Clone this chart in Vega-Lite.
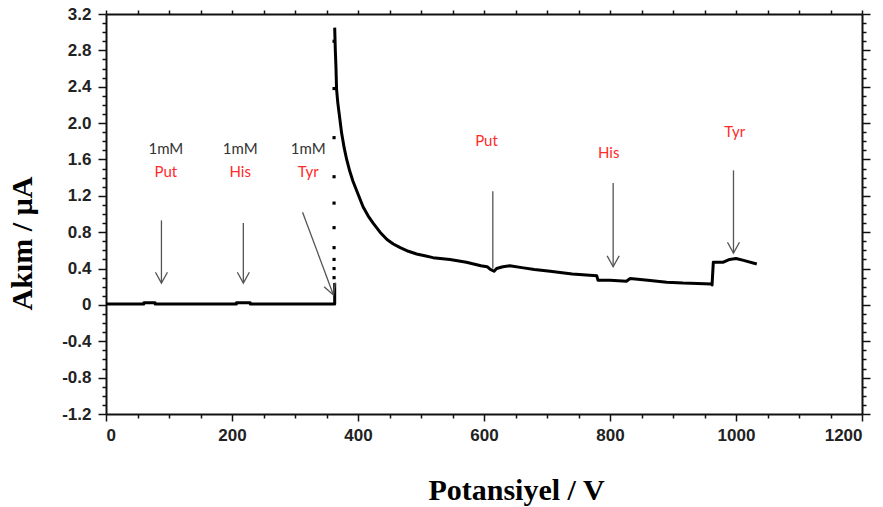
{
  "$schema": "https://vega.github.io/schema/vega-lite/v6.json",
  "width": 756,
  "height": 400,
  "autosize": {"type": "none"},
  "padding": {"left": 106, "top": 14, "right": 21, "bottom": 93},
  "background": "white",
  "config": {
    "view": {"stroke": null},
    "axis": {"grid": false, "domainColor": "#111", "tickColor": "#111", "labelFont": "Liberation Sans", "labelFontWeight": "bold", "labelFontSize": 17, "labelColor": "#222", "domainWidth": 2, "tickWidth": 1.5}
  },
  "datasets": {
    "curve": [
      {"x": 0, "y": 0.01, "seg": "a"}, {"x": 60, "y": 0.01, "seg": "a"}, {"x": 60, "y": 0.025, "seg": "a"}, {"x": 78, "y": 0.025, "seg": "a"}, {"x": 78, "y": 0.01, "seg": "a"},
      {"x": 207, "y": 0.01, "seg": "a"}, {"x": 207, "y": 0.025, "seg": "a"}, {"x": 229, "y": 0.025, "seg": "a"}, {"x": 229, "y": 0.01, "seg": "a"},
      {"x": 363, "y": 0.01, "seg": "a"}, {"x": 363, "y": 0.24, "seg": "a"},
      {"x": 363, "y": 3.05, "seg": "b"}, {"x": 364, "y": 2.8, "seg": "b"}, {"x": 365, "y": 2.62, "seg": "b"}, {"x": 366, "y": 2.37, "seg": "b"}, {"x": 368, "y": 2.22, "seg": "b"}, {"x": 370, "y": 2.11, "seg": "b"},
      {"x": 374, "y": 1.89, "seg": "b"}, {"x": 378, "y": 1.73, "seg": "b"}, {"x": 382, "y": 1.6, "seg": "b"}, {"x": 387, "y": 1.47, "seg": "b"}, {"x": 392, "y": 1.36, "seg": "b"}, {"x": 400, "y": 1.22, "seg": "b"},
      {"x": 408, "y": 1.08, "seg": "b"}, {"x": 416, "y": 0.98, "seg": "b"}, {"x": 424, "y": 0.9, "seg": "b"}, {"x": 435, "y": 0.8, "seg": "b"}, {"x": 446, "y": 0.72, "seg": "b"}, {"x": 456, "y": 0.67, "seg": "b"}, {"x": 467, "y": 0.63, "seg": "b"},
      {"x": 480, "y": 0.59, "seg": "b"}, {"x": 493, "y": 0.56, "seg": "b"}, {"x": 506, "y": 0.54, "seg": "b"}, {"x": 519, "y": 0.52, "seg": "b"}, {"x": 546, "y": 0.5, "seg": "b"}, {"x": 572, "y": 0.47, "seg": "b"},
      {"x": 595, "y": 0.43, "seg": "b"}, {"x": 605, "y": 0.42, "seg": "b"}, {"x": 610, "y": 0.39, "seg": "b"}, {"x": 616, "y": 0.37, "seg": "b"},
      {"x": 620, "y": 0.4, "seg": "b"}, {"x": 630, "y": 0.42, "seg": "b"}, {"x": 641, "y": 0.43, "seg": "b"}, {"x": 660, "y": 0.41, "seg": "b"},
      {"x": 680, "y": 0.39, "seg": "b"}, {"x": 705, "y": 0.37, "seg": "b"}, {"x": 740, "y": 0.34, "seg": "b"}, {"x": 779, "y": 0.32, "seg": "b"},
      {"x": 781, "y": 0.27, "seg": "b"}, {"x": 800, "y": 0.27, "seg": "b"}, {"x": 826, "y": 0.26, "seg": "b"}, {"x": 832, "y": 0.29, "seg": "b"},
      {"x": 860, "y": 0.27, "seg": "b"}, {"x": 890, "y": 0.25, "seg": "b"}, {"x": 916, "y": 0.24, "seg": "b"}, {"x": 961, "y": 0.23, "seg": "b"},
      {"x": 962, "y": 0.22, "seg": "b"}, {"x": 964, "y": 0.47, "seg": "b"}, {"x": 980, "y": 0.47, "seg": "b"}, {"x": 990, "y": 0.5, "seg": "b"},
      {"x": 1000, "y": 0.51, "seg": "b"}, {"x": 1012, "y": 0.49, "seg": "b"}, {"x": 1033, "y": 0.45, "seg": "b"}
    ],
    "dots": [
      {"x": 362, "y": 0.3}, {"x": 362, "y": 0.4}, {"x": 362, "y": 0.5}, {"x": 362, "y": 0.63}, {"x": 362, "y": 0.85},
      {"x": 362, "y": 1.12}, {"x": 362, "y": 1.41}, {"x": 362, "y": 1.84}, {"x": 362, "y": 2.38}, {"x": 362, "y": 2.9}
    ],
    "arrows": [
      {"x": 88, "y": 0.93, "x2": 88, "y2": 0.24, "head": "down"},
      {"x": 218, "y": 0.9, "x2": 218, "y2": 0.24, "head": "down"},
      {"x": 312, "y": 1.02, "x2": 361, "y2": 0.11, "head": "diag"},
      {"x": 614, "y": 1.25, "x2": 614, "y2": 0.4, "head": "none"},
      {"x": 805, "y": 1.34, "x2": 805, "y2": 0.42, "head": "down"},
      {"x": 996, "y": 1.48, "x2": 996, "y2": 0.57, "head": "down"}
    ],
    "labels": [
      {"x": 95, "y": 1.71, "text": "1mM", "kind": "conc"},
      {"x": 95, "y": 1.46, "text": "Put", "kind": "name"},
      {"x": 213, "y": 1.71, "text": "1mM", "kind": "conc"},
      {"x": 213, "y": 1.46, "text": "His", "kind": "name"},
      {"x": 321, "y": 1.71, "text": "1mM", "kind": "conc"},
      {"x": 321, "y": 1.46, "text": "Tyr", "kind": "name"},
      {"x": 604, "y": 1.8, "text": "Put", "kind": "name"},
      {"x": 798, "y": 1.67, "text": "His", "kind": "name"},
      {"x": 998, "y": 1.9, "text": "Tyr", "kind": "name"}
    ]
  },
  "resolve": {"axis": {"x": "independent", "y": "independent"}},
  "layer": [
    {
      "data": {"name": "curve"},
      "mark": {"type": "line", "color": "#000", "strokeWidth": 3, "strokeJoin": "round"},
      "encoding": {
        "x": {"field": "x", "type": "quantitative", "scale": {"domain": [0, 1200], "nice": false},
          "axis": {"orient": "bottom", "values": [0, 200, 400, 600, 800, 1000, 1200], "format": "d", "tickSize": 7, "labelPadding": 6,
            "title": "Potansiyel / V", "titleFont": "Liberation Serif", "titleFontSize": 30, "titleFontWeight": "bold", "titleColor": "#000",
            "titleX": 410, "titleY": 76, "titleBaseline": "middle", "titleAlign": "center"}},
        "y": {"field": "y", "type": "quantitative", "scale": {"domain": [-1.2, 3.2], "nice": false, "zero": false},
          "axis": {"orient": "left", "values": [-1.2, -0.8, -0.4, 0, 0.4, 0.8, 1.2, 1.6, 2.0, 2.4, 2.8, 3.2], "tickSize": 8, "labelPadding": 7,
            "labelExpr": "datum.value == 0 ? '0' : (datum.value < 0 ? '-' + format(-datum.value, '.1f') : format(datum.value, '.1f'))",
            "title": "Akım  / µA", "titleFont": "Liberation Serif", "titleFontSize": 30, "titleFontWeight": "bold", "titleColor": "#000",
            "titleX": -84, "titleY": 229, "titleBaseline": "middle", "titleAlign": "center", "titleAngle": -90}},
        "detail": {"field": "seg"}
      }
    },
    {
      "data": {"name": "dots"},
      "mark": {"type": "point", "shape": "square", "filled": true, "color": "#000", "size": 10, "opacity": 1},
      "encoding": {
        "x": {"field": "x", "type": "quantitative",
          "axis": {"orient": "bottom", "values": [50, 100, 150, 250, 300, 350, 450, 500, 550, 650, 700, 750, 850, 900, 950, 1050, 1100, 1150], "tickSize": 4, "labels": false, "domain": false, "title": null}},
        "y": {"field": "y", "type": "quantitative",
          "axis": {"orient": "left", "values": [-1.1, -1.0, -0.9, -0.7, -0.6, -0.5, -0.3, -0.2, -0.1, 0.1, 0.2, 0.3, 0.5, 0.6, 0.7, 0.9, 1.0, 1.1, 1.3, 1.4, 1.5, 1.7, 1.8, 1.9, 2.1, 2.2, 2.3, 2.5, 2.6, 2.7, 2.9, 3.0, 3.1], "tickSize": 4, "labels": false, "domain": false, "title": null}}
      }
    },
    {
      "data": {"name": "arrows"},
      "mark": {"type": "rule", "color": "#555", "strokeWidth": 1.3},
      "encoding": {
        "x": {"field": "x", "type": "quantitative",
          "axis": {"orient": "top", "values": [0, 50, 100, 150, 200, 250, 300, 350, 400, 450, 500, 550, 600, 650, 700, 750, 800, 850, 900, 950, 1000, 1050, 1100, 1150, 1200], "tickSize": 4, "labels": false, "title": null}},
        "y": {"field": "y", "type": "quantitative",
          "axis": {"orient": "right", "values": [-1.1, -1.0, -0.9, -0.7, -0.6, -0.5, -0.3, -0.2, -0.1, 0.1, 0.2, 0.3, 0.5, 0.6, 0.7, 0.9, 1.0, 1.1, 1.3, 1.4, 1.5, 1.7, 1.8, 1.9, 2.1, 2.2, 2.3, 2.5, 2.6, 2.7, 2.9, 3.0, 3.1], "tickSize": 4, "labels": false, "title": null}},
        "x2": {"field": "x2"},
        "y2": {"field": "y2"}
      }
    },
    {
      "data": {"name": "arrows"},
      "transform": [{"filter": "datum.head == 'down'"}],
      "mark": {"type": "point", "shape": "M-1,-1.8L0,0L1,-1.8", "filled": false, "stroke": "#555", "strokeWidth": 1.3, "size": 144, "opacity": 1},
      "encoding": {
        "x": {"field": "x2", "type": "quantitative", "axis": null},
        "y": {"field": "y2", "type": "quantitative",
          "axis": {"orient": "right", "values": [-1.2, -0.8, -0.4, 0, 0.4, 0.8, 1.2, 1.6, 2.0, 2.4, 2.8, 3.2], "tickSize": 8, "labels": false, "domain": false, "title": null}}
      }
    },
    {
      "data": {"name": "arrows"},
      "transform": [{"filter": "datum.head == 'diag'"}],
      "mark": {"type": "point", "shape": "M-1,-1.8L0,0L1,-1.8", "filled": false, "stroke": "#555", "strokeWidth": 1.3, "size": 144, "opacity": 1, "angle": -20},
      "encoding": {
        "x": {"field": "x2", "type": "quantitative", "axis": null},
        "y": {"field": "y2", "type": "quantitative", "axis": null}
      }
    },
    {
      "data": {"name": "labels"},
      "mark": {"type": "text", "font": "Lato", "fontSize": 15, "baseline": "middle", "align": "center"},
      "encoding": {
        "x": {"field": "x", "type": "quantitative", "axis": null},
        "y": {"field": "y", "type": "quantitative", "axis": null},
        "text": {"field": "text"},
        "color": {"field": "kind", "type": "nominal", "scale": {"domain": ["conc", "name"], "range": ["#333333", "#ff2a2a"]}, "legend": null}
      }
    }
  ]
}
